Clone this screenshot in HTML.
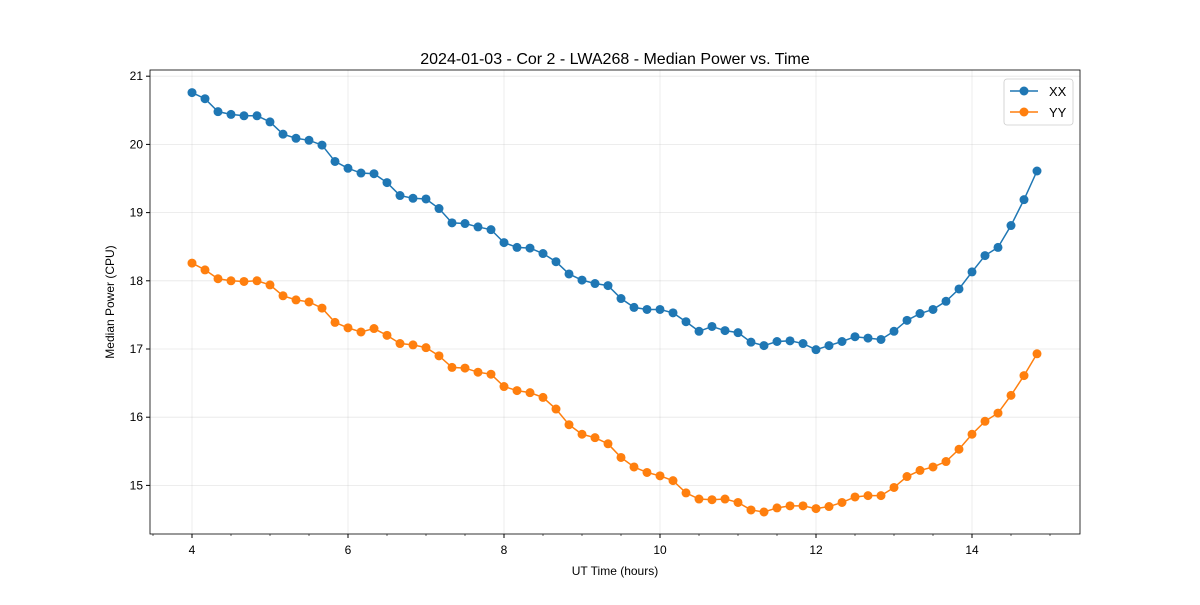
<!DOCTYPE html>
<html><head><meta charset="utf-8"><style>body{margin:0;background:#fff}svg{font-family:"Liberation Sans","DejaVu Sans",sans-serif}</style></head>
<body>
<svg id="c" width="1200" height="600"></svg>
<script>
const categories=[];for(let i=0;i<66;i++)categories.push(4+i/6);
const xxValues=[20.76,20.67,20.48,20.44,20.42,20.42,20.33,20.15,20.09,20.06,19.99,19.75,19.65,19.58,19.57,19.44,19.25,19.21,19.20,19.06,18.85,18.84,18.79,18.75,18.56,18.49,18.48,18.40,18.28,18.10,18.01,17.96,17.93,17.74,17.61,17.58,17.58,17.53,17.40,17.26,17.33,17.27,17.24,17.10,17.05,17.11,17.12,17.08,16.99,17.05,17.11,17.18,17.16,17.14,17.26,17.42,17.52,17.58,17.70,17.88,18.13,18.37,18.49,18.81,19.19,19.61];
const yyValues=[18.26,18.16,18.03,18.00,17.99,18.00,17.94,17.78,17.72,17.69,17.60,17.39,17.31,17.25,17.30,17.20,17.08,17.06,17.02,16.90,16.73,16.72,16.66,16.63,16.45,16.39,16.36,16.29,16.12,15.89,15.75,15.70,15.61,15.41,15.27,15.19,15.14,15.07,14.89,14.80,14.79,14.80,14.75,14.64,14.61,14.67,14.70,14.70,14.66,14.69,14.75,14.83,14.85,14.85,14.97,15.13,15.22,15.27,15.35,15.53,15.75,15.94,16.06,16.32,16.61,16.93];
const xTicks=[4,6,8,10,12,14];
const yTicks=[15,16,17,18,19,20,21];
const NS='http://www.w3.org/2000/svg',svg=document.getElementById('c');
const L=150,R=1080,T=70,B=534;
const X=v=>192+(v-4)*78, Y=v=>349-(v-17)*68.2;
function el(t,a,p){const e=document.createElementNS(NS,t);for(const k in a)e.setAttribute(k,a[k]);(p||svg).appendChild(e);return e;}
let t=el('text',{x:615,y:64,'text-anchor':'middle','font-size':16});t.textContent='2024-01-03 - Cor 2 - LWA268 - Median Power vs. Time';


xTicks.forEach(v=>{
 let g=el('line',{x1:X(v),x2:X(v),y1:T,y2:B,stroke:'#b0b0b0','stroke-opacity':0.3,'stroke-width':0.8});
 
 
 el('line',{x1:X(v),x2:X(v),y1:B,y2:B+4,stroke:'#000'});
 let tx=el('text',{x:X(v),y:B+20,'text-anchor':'middle','font-size':12});tx.textContent=v;
 
 
});
for(let v=3.5;v<15.4;v+=0.5){if(v%2!==0)el('line',{x1:X(v),x2:X(v),y1:B,y2:B+2,stroke:'#000','stroke-width':0.6});}
yTicks.forEach(v=>{
 let g=el('line',{x1:L,x2:R,y1:Y(v),y2:Y(v),stroke:'#b0b0b0','stroke-opacity':0.3,'stroke-width':0.8});
 
 
 el('line',{x1:L-4,x2:L,y1:Y(v),y2:Y(v),stroke:'#000'});
 let tx=el('text',{x:L-7,y:Y(v)+4,'text-anchor':'end','font-size':12});tx.textContent=v;
 
 
});
let fr=el('rect',{x:L,y:T,width:R-L,height:B-T,fill:'none',stroke:'#000','stroke-width':0.8});


let xl=el('text',{x:615,y:575,'text-anchor':'middle','font-size':12});xl.textContent='UT Time (hours)';


let yl=el('text',{x:114,y:302,'text-anchor':'middle','font-size':12,transform:'rotate(-90 114 302)'});yl.textContent='Median Power (CPU)';


function series(vals,color,name){
 let p=el('polyline',{points:vals.map((v,i)=>X(categories[i])+','+Y(v)).join(' '),fill:'none',stroke:color,'stroke-width':1.5});
 
 
 vals.forEach((v,i)=>{let c=el('circle',{cx:X(categories[i]),cy:Y(v),r:4.5,fill:color});
  
  });
}
series(xxValues,'#1f77b4','xx');
series(yyValues,'#ff7f0e','yy');
let lg=el('rect',{x:1004,y:79,width:69,height:46,rx:3,fill:'#fff',stroke:'#ccc','stroke-width':0.8});


[['XX','#1f77b4',91],['YY','#ff7f0e',112]].forEach(([n,c,y])=>{
 el('line',{x1:1010,x2:1038,y1:y,y2:y,stroke:c,'stroke-width':1.5});
 el('circle',{cx:1024,cy:y,r:4.5,fill:c});
 let tx=el('text',{x:1049,y:y+5,'font-size':13});tx.textContent=n;
 
 
});
</script>
</body></html>
